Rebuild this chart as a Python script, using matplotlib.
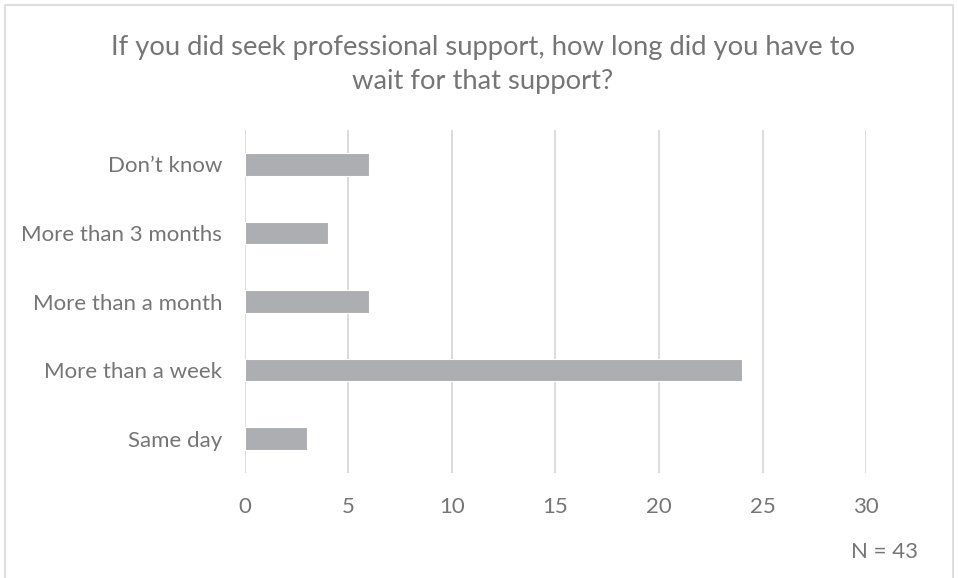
import matplotlib.pyplot as plt
from matplotlib.lines import Line2D

# Survey answers (N = 43)
categories = ['Same day', 'More than a week', 'More than a month',
              'More than 3 months', 'Don\u2019t know']
counts = [3, 24, 6, 4, 6]
x_ticks = [0, 5, 10, 15, 20, 25, 30]

text_col = '#757575'
bar_col = '#ADAEB2'
grid_col = '#D9D9D9'

plt.rcParams['font.family'] = ['Lato', 'DejaVu Sans']

fig = plt.figure(figsize=(9.58, 5.78), dpi=100)
ax = fig.add_axes([0.2557, 0.1817, 0.904 - 0.2557, 0.775 - 0.1817])

ax.barh(categories, counts, height=0.33, color=bar_col,
        edgecolor='white', linewidth=0.8, zorder=3)

ax.set_xlim(0, 30)
ax.set_ylim(-0.5, len(categories) - 0.5)
ax.set_xticks(x_ticks)
ax.grid(axis='x', color=grid_col, linewidth=1.3, zorder=0)
for s in ax.spines.values():
    s.set_visible(False)
ax.tick_params(axis='both', length=0, labelsize=16, labelcolor=text_col)
ax.tick_params(axis='y', pad=16.5)
ax.tick_params(axis='x', pad=17)

fig.text(0.504, 0.888,
         'If you did seek professional support, how long did you have to\nwait for that support?',
         ha='center', va='center', fontsize=19.7, color=text_col, linespacing=1.46)
fig.text(0.958, 0.045, 'N = 43', ha='right', va='center',
         fontsize=16, color=text_col)

# light frame around the chart
fig.add_artist(Line2D([0.005, 0.005, 0.995, 0.995], [0, 0.992, 0.992, 0],
                      transform=fig.transFigure, color='#D9D9D9', linewidth=1.2))

fig.savefig('out.png', dpi=100, facecolor='white')
